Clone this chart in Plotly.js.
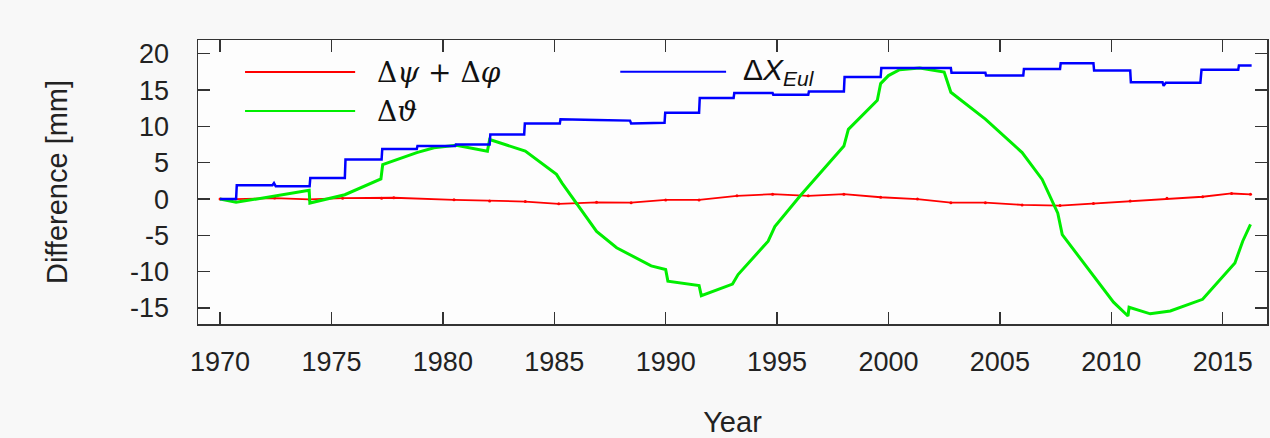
<!DOCTYPE html>
<html>
<head>
<meta charset="utf-8">
<script src="https://cdn.plot.ly/plotly-3.0.1.min.js"></script>
<style>html,body{margin:0;padding:0;background:#f8f8f8;}#chart{width:1270px;height:438px;}</style>
</head>
<body>
<div id="chart"></div>
<script>
// Δψ + Δφ (red)
const redYear = [1970, 1970.7, 1972.45, 1974.0, 1975.5, 1977.25, 1977.8, 1980.5, 1982.1, 1983.7, 1985.2, 1986.0, 1986.9, 1988.45, 1990.0, 1991.5, 1993.2, 1994.8, 1996.4, 1998.0, 1999.65, 2001.3, 2002.8, 2004.35, 2006.0, 2007.7, 2009.2, 2010.85, 2012.5, 2014.1, 2015.4, 2016.25];
const redVal = [0, 0, 0.14, -0.05, 0.12, 0.1, 0.18, -0.1, -0.25, -0.35, -0.65, -0.6, -0.45, -0.5, -0.12, -0.12, 0.45, 0.68, 0.45, 0.68, 0.25, 0, -0.5, -0.5, -0.8, -0.9, -0.6, -0.27, 0.1, 0.32, 0.77, 0.65];

// Δϑ (green)
const greenYear = [1970, 1970.72, 1974.0, 1974.03, 1975.6, 1977.22, 1977.3, 1978.83, 1979.6, 1980.6, 1982.0, 1982.1, 1983.7, 1985.1, 1985.35, 1986.9, 1987.8, 1989.35, 1990.0, 1990.1, 1991.5, 1991.6, 1993.0, 1993.25, 1994.6, 1994.9, 1996.05, 1998.0, 1998.2, 1999.5, 1999.65, 2000.0, 2000.5, 2001.4, 2002.5, 2002.8, 2004.35, 2006.0, 2006.9, 2007.6, 2007.8, 2009.2, 2010.1, 2010.75, 2010.8, 2011.75, 2012.65, 2014.1, 2015.55, 2015.9, 2016.25];
const greenVal = [0, -0.45, 1.2, -0.55, 0.6, 2.77, 4.75, 6.4, 7.07, 7.4, 6.6, 8.2, 6.6, 3.4, 2.2, -4.45, -6.7, -9.2, -9.7, -11.3, -11.9, -13.3, -11.7, -10.4, -5.8, -3.8, 0.5, 7.3, 9.6, 13.6, 15.9, 17.0, 17.8, 18.05, 17.5, 14.7, 11.0, 6.4, 2.7, -1.95, -4.9, -10.6, -14.2, -16.1, -14.9, -15.8, -15.4, -13.8, -8.8, -5.8, -3.5];

// ΔX_Eul (blue)
const blueYear = [1970, 1970.72, 1970.75, 1972.35, 1972.42, 1972.5, 1974.02, 1974.05, 1975.6, 1975.63, 1977.25, 1977.28, 1978.83, 1978.86, 1980.55, 1980.58, 1982.1, 1982.13, 1983.65, 1983.68, 1985.25, 1985.28, 1986.9, 1988.4, 1988.45, 1989.95, 1989.98, 1991.5, 1991.53, 1993.05, 1993.08, 1994.8, 1994.83, 1996.4, 1996.43, 1998.0, 1998.03, 1999.65, 1999.68, 2002.8, 2002.83, 2004.35, 2004.38, 2006.05, 2006.08, 2007.7, 2007.73, 2009.2, 2009.23, 2010.85, 2010.88, 2012.3, 2012.35, 2012.45, 2014.0, 2014.05, 2015.7, 2015.73, 2016.3];
const blueVal = [0, 0, 1.9, 1.9, 2.2, 1.75, 1.75, 2.9, 2.9, 5.45, 5.45, 6.9, 6.9, 7.3, 7.3, 7.5, 7.5, 8.9, 8.9, 10.4, 10.4, 11.0, 10.9, 10.8, 10.4, 10.5, 11.9, 11.9, 13.9, 13.9, 14.6, 14.6, 14.35, 14.35, 14.8, 14.8, 16.8, 16.8, 18.05, 18.05, 17.4, 17.4, 17.0, 17.0, 17.9, 17.9, 18.7, 18.7, 17.7, 17.7, 16.1, 16.1, 15.6, 16.0, 16.0, 17.8, 17.8, 18.4, 18.4];

const xTicks = [1970, 1975, 1980, 1985, 1990, 1995, 2000, 2005, 2010, 2015];
const yTicks = [-15, -10, -5, 0, 5, 10, 15, 20];
const seriesNames = ['Δ<i>ψ</i> + Δ<i>φ</i>', 'Δ<i>ϑ</i>', 'Δ<i>X</i><sub><i>Eul</i></sub>'];
const seriesColors = ['#ff0000', '#00ee00', '#0000ff'];

const traces = [
  {x: redYear, y: redVal, mode: 'lines+markers', line: {color: seriesColors[0], width: 1.8}, marker: {size: 3, color: seriesColors[0]}, name: seriesNames[0]},
  {x: greenYear, y: greenVal, mode: 'lines', line: {color: seriesColors[1], width: 3}, name: seriesNames[1]},
  {x: blueYear, y: blueVal, mode: 'lines', line: {color: seriesColors[2], width: 2.5}, name: seriesNames[2]}
];

const tickFont = {family: 'Liberation Sans, Arial, sans-serif', size: 27, color: '#222'};
const titleFont = {family: 'Liberation Sans, Arial, sans-serif', size: 29, color: '#222'};
const legFonts = [
  {family: 'DejaVu Serif, Liberation Serif, serif', size: 28, color: '#111'},
  {family: 'DejaVu Serif, Liberation Serif, serif', size: 28, color: '#111'},
  {family: 'Liberation Sans, Arial, sans-serif', size: 30, color: '#111'}
];

const legendRows = [
  {x0: 0.044, x1: 0.147, y: 0.887, tx: 0.166},
  {x0: 0.044, x1: 0.147, y: 0.750, tx: 0.166},
  {x0: 0.395, x1: 0.494, y: 0.888, tx: 0.508}
];
const shapes = legendRows.map((r, i) => ({type: 'line', xref: 'paper', yref: 'paper', x0: r.x0, x1: r.x1, y0: r.y, y1: r.y, line: {color: seriesColors[i], width: 2}}));
const annotations = legendRows.map((r, i) => ({xref: 'paper', yref: 'paper', x: r.tx, y: r.y, xanchor: 'left', yanchor: 'middle', text: seriesNames[i], showarrow: false, font: legFonts[i]}));

const layout = {
  width: 1270, height: 438,
  margin: {l: 198, r: 3, t: 40, b: 114},
  paper_bgcolor: '#f8f8f8',
  plot_bgcolor: '#fdfdfd',
  showlegend: false,
  xaxis: {
    range: [1969.01, 2016.99], tickvals: xTicks, ticktext: xTicks.map(String),
    ticks: 'inside', ticklen: 12, tickwidth: 1.3, tickcolor: '#333',
    showline: true, linecolor: '#333', linewidth: 1.5, mirror: 'ticks',
    showgrid: false, zeroline: false, tickfont: tickFont, ticklabelstandoff: 13,
    title: {text: 'Year', font: titleFont, standoff: 36}
  },
  yaxis: {
    range: [-17.2, 21.9], tickvals: yTicks, ticktext: yTicks.map(String),
    ticks: 'inside', ticklen: 12, tickwidth: 1.3, tickcolor: '#333',
    showline: true, linecolor: '#333', linewidth: 1.5, mirror: 'ticks',
    showgrid: false, zeroline: false, tickfont: tickFont, ticklabelstandoff: 22,
    title: {text: 'Difference [mm]', font: titleFont, standoff: 54}
  },
  shapes: shapes,
  annotations: annotations
};

Plotly.newPlot('chart', traces, layout, {displayModeBar: false, staticPlot: true});
</script>
</body>
</html>
